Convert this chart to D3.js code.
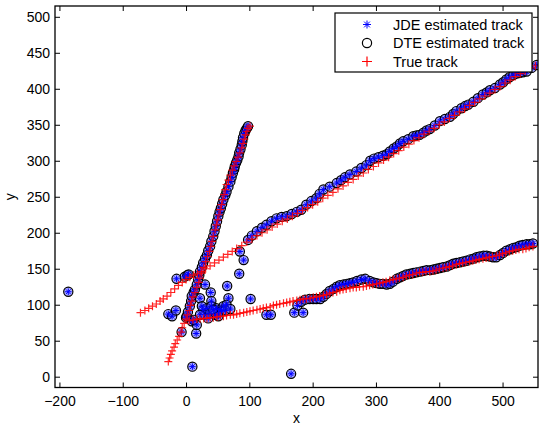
<!DOCTYPE html>
<html>
<head>
<meta charset="utf-8">
<script src="https://cdn.jsdelivr.net/npm/d3@7"></script>
<style>
  body { margin: 0; background: #fff; }
  svg { font-family: "Liberation Sans", Arial, sans-serif; }
</style>
</head>
<body>
<script>
// tick values
const xTicks = [-200, -100, 0, 100, 200, 300, 400, 500];
const yTicks = [0, 50, 100, 150, 200, 250, 300, 350, 400, 450, 500];

// legend labels
const seriesNames = ["JDE estimated track", "DTE estimated track", "True track"];

// true tracks (red +)
const trueA = [[-28,21],[-26,26],[-24,31],[-22,36],[-19,41],[-17,46],[-14,51],[-11,56],[-8,62],[-6,68],[-3,74],[0,80],[2,86],[5,92],[7,99],[9,105],[11,111],[14,117],[17,124],[20,131],[22,137],[25,144],[28,152],[31,160],[34,167],[37,174],[39,181],[41,188],[43,195],[46,204],[48,211],[50,218],[52,225],[54,232],[56,239],[58,246],[60,253],[62,260],[64,267],[67,273],[70,280],[73,287],[76,293],[79,299],[82,305],[85,311],[88,318],[90,324],[92,330],[94,336],[96,341],[98,345],[101,348]];
const trueB = [[-72,89],[-65,92],[-59,95],[-53,98],[-47,101],[-41,105],[-36,108],[-30,112],[-24,117],[-18,122],[-12,127],[-6,131],[0,135],[6,138],[12,141],[18,143],[24,146],[31,150],[38,154],[45,158],[52,162],[59,166],[66,170],[73,174],[80,178],[88,182],[96,187],[104,191],[112,196],[120,200],[128,204],[136,208],[144,212],[152,216],[160,219],[168,223],[176,227],[184,231],[192,235],[200,239],[208,243],[216,248],[224,252],[232,256],[240,261],[248,265],[256,270],[264,274],[272,279],[280,283],[288,288],[296,292],[304,297],[312,301],[320,305],[328,310],[336,314],[344,319],[352,323],[360,328],[368,332],[376,337],[384,341],[392,345],[400,350],[408,354],[416,359],[424,363],[432,368],[440,372],[448,377],[456,381],[464,386],[472,390],[480,394],[488,399],[496,403],[504,408],[512,412],[520,417],[528,421],[536,425],[544,429],[552,432]];
const trueC = [[5,78],[11,79],[17,80],[22,80],[28,81],[33,81],[38,82],[43,82],[49,83],[54,84],[59,84],[64,85],[70,86],[75,86],[80,87],[85,88],[91,89],[96,90],[101,91],[106,92],[112,93],[117,94],[122,95],[127,96],[133,97],[138,99],[143,100],[148,101],[154,102],[159,103],[164,104],[169,105],[175,106],[180,107],[185,108],[190,108],[196,109],[201,110],[206,111],[211,112],[217,113],[222,114],[227,116],[232,117],[238,118],[243,120],[248,121],[253,122],[259,123],[264,124],[269,124],[274,125],[280,125],[285,126],[290,127],[295,128],[301,129],[306,130],[311,131],[316,132],[322,134],[327,135],[332,136],[337,137],[343,138],[348,140],[353,141],[358,142],[364,144],[369,145],[374,145],[379,146],[385,146],[390,147],[395,148],[400,150],[406,151],[411,152],[416,153],[421,154],[427,156],[432,157],[437,158],[442,159],[448,160],[453,161],[458,162],[463,163],[469,164],[474,165],[479,166],[484,167],[490,168],[495,169],[500,171],[505,172],[511,174],[516,175],[521,176],[526,177],[532,177],[537,178],[542,180],[548,181]];

// estimated tracks (JDE and DTE give the same points)
const estA = [[1,84],[3,90],[6,98],[8,105],[9,112],[12,117],[14,121],[17,128],[19,135],[21,141],[22,146],[25,152],[27,158],[30,164],[33,169],[35,175],[38,181],[40,188],[43,195],[45,202],[47,209],[49,216],[51,223],[53,229],[55,234],[57,240],[59,246],[62,252],[64,257],[67,264],[70,271],[72,277],[74,283],[76,288],[77,292],[79,297],[81,301],[83,306],[84,311],[86,316],[88,322],[89,327],[90,332],[92,338],[94,342],[96,345],[98,348]];
const estB = [[98,190],[104,196],[112,202],[120,207],[127,211],[135,216],[143,220],[151,222],[159,223],[167,226],[175,229],[182,232],[190,239],[198,244],[206,248],[211,254],[217,260],[227,264],[238,269],[245,273],[251,277],[259,281],[269,285],[277,290],[285,294],[291,300],[297,303],[304,305],[311,307],[317,309],[322,313],[328,317],[333,320],[338,324],[343,327],[351,330],[359,334],[364,335],[369,336],[375,339],[380,342],[385,344],[393,349],[401,355],[409,358],[417,361],[422,365],[427,369],[435,373],[441,376],[446,378],[454,382],[461,387],[469,392],[475,395],[480,398],[488,401],[496,406],[501,409],[506,413],[511,416],[517,419],[522,421],[527,422],[532,423],[538,424],[546,429],[554,433]];
const estC = [[176,99],[182,104],[188,107],[195,108],[201,108],[206,108],[212,108],[217,111],[222,115],[227,119],[233,122],[238,125],[243,127],[249,128],[254,129],[259,130],[264,131],[270,133],[277,135],[283,136],[290,133],[296,131],[301,130],[306,129],[311,129],[317,128],[322,129],[327,132],[333,136],[338,138],[343,140],[348,142],[354,143],[359,144],[364,145],[370,146],[375,147],[380,148],[386,148],[391,149],[396,150],[401,151],[406,152],[412,153],[417,155],[422,157],[427,158],[433,159],[438,160],[443,161],[449,163],[454,164],[459,166],[464,167],[470,168],[475,168],[480,167],[485,166],[490,166],[496,169],[501,172],[506,175],[512,177],[517,179],[522,180],[527,182],[532,183],[538,184],[543,184],[548,185]];
// estimates away from the tracks (clutter)
const estClutter = [[-186,118],[-28,87],[-22,84],[-16,92],[-15,136],[-2,139],[2,141],[4,142],[-7,62],[16,60],[10,14],[30,128],[22,109],[39,117],[40,105],[65,126],[67,109],[84,143],[91,162],[85,174],[102,108],[127,86],[134,86],[166,4],[171,89],[185,89],[0,82],[9,77],[17,72],[27,93],[33,95],[40,98],[48,95],[54,93],[59,98],[64,100],[30,86],[38,88],[46,86],[51,88],[56,91],[35,81],[22,86],[25,98],[12,79],[43,93],[62,92],[70,94],[51,84]];

const estAll = estClutter.concat(estA, estB, estC);
const trueAll = trueA.concat(trueB, trueC);

const width = 539, height = 431;
const margin = {left: 55, right: 1, top: 6, bottom: 43.5};
const font = "'Liberation Sans', Arial, sans-serif";

const svg = d3.select("body").append("svg")
    .attr("width", width)
    .attr("height", height);

const xScale = d3.scaleLinear().domain([-207, 556]).range([margin.left, width - margin.right]);
const yScale = d3.scaleLinear().domain([-15, 515]).range([height - margin.bottom, margin.top]);

svg.append("clipPath").attr("id", "clip")
    .append("rect")
    .attr("x", margin.left).attr("y", margin.top)
    .attr("width", width - margin.left - margin.right)
    .attr("height", height - margin.top - margin.bottom);

//marker shapes
const star = (g, s) => {
    g.append("path")
        .attr("d", `M${-s},0H${s}M0,${-s}V${s}M${-s*0.72},${-s*0.72}L${s*0.72},${s*0.72}M${-s*0.72},${s*0.72}L${s*0.72},${-s*0.72}`)
        .attr("stroke", "#0000ff").attr("stroke-width", 1).attr("fill", "none");
};
const ring = (g, r) => {
    g.append("circle").attr("r", r)
        .attr("fill", "rgba(90,90,255,0.5)")
        .attr("stroke", "#000").attr("stroke-width", 1.2);
};
const plus = (g, s, w) => {
    g.append("path")
        .attr("d", `M${-s},0H${s}M0,${-s}V${s}`)
        .attr("stroke", "#ff0000").attr("stroke-width", w).attr("fill", "none");
};

let plot = svg.append("g").attr("clip-path", "url(#clip)");

// DTE circles
plot.append("g").selectAll("g").data(estAll).enter().append("g")
    .attr("transform", d => `translate(${xScale(d[0])},${yScale(d[1])})`)
    .each(function () { ring(d3.select(this), 4.6); });

// JDE stars
plot.append("g").selectAll("g").data(estAll).enter().append("g")
    .attr("transform", d => `translate(${xScale(d[0])},${yScale(d[1])})`)
    .each(function () { star(d3.select(this), 3.3); });

// true track
plot.append("g").selectAll("g").data(trueAll).enter().append("g")
    .attr("transform", d => `translate(${xScale(d[0])},${yScale(d[1])})`)
    .attr("opacity", 0.85)
    .each(function () { plus(d3.select(this), 4, 1.2); });

//axes
const x0 = margin.left, x1 = width - margin.right;
const y0 = height - margin.bottom, y1 = margin.top;

const xAxis = d3.axisBottom(xScale).tickValues(xTicks).tickSizeInner(-5).tickSizeOuter(0).tickPadding(9);
const yAxis = d3.axisLeft(yScale).tickValues(yTicks).tickSizeInner(-5).tickSizeOuter(0).tickPadding(5);
const xTop = d3.axisTop(xScale).tickValues(xTicks).tickSizeInner(-5).tickSizeOuter(0).tickFormat("");
const yRight = d3.axisRight(yScale).tickValues(yTicks).tickSizeInner(-5).tickSizeOuter(0).tickFormat("");

svg.append("g").attr("transform", `translate(0,${y0})`).call(xAxis);
svg.append("g").attr("transform", `translate(${x0},0)`).call(yAxis);
svg.append("g").attr("transform", `translate(0,${y1})`).call(xTop);
svg.append("g").attr("transform", `translate(${x1},0)`).call(yRight);

svg.selectAll(".domain").remove();
svg.selectAll(".tick line").attr("stroke", "#000");
svg.selectAll(".tick text").attr("font-size", 14).attr("fill", "#000")
    .attr("font-family", font);

svg.append("rect")
    .attr("x", x0).attr("y", y1)
    .attr("width", x1 - x0).attr("height", y0 - y1)
    .attr("fill", "none").attr("stroke", "#000").attr("stroke-width", 1.3);

svg.append("text").attr("x", (x0 + x1) / 2).attr("y", 423)
    .attr("text-anchor", "middle").attr("font-size", 14).text("x");
svg.append("text").attr("transform", `translate(15,${(y0 + y1) / 2}) rotate(-90)`)
    .attr("text-anchor", "middle").attr("font-size", 14).text("y");

//legend
const legend = svg.append("g");
legend.append("rect").attr("x", 335).attr("y", 13).attr("width", 197).attr("height", 59)
    .attr("fill", "#fff").attr("stroke", "#000").attr("stroke-width", 1.2);
const rowY = [24.5, 43, 61.5];
seriesNames.forEach((name, i) => {
    const g = legend.append("g").attr("transform", `translate(367,${rowY[i]})`);
    if (i === 0) star(g, 4);
    if (i === 1) g.append("circle").attr("r", 4.6).attr("fill", "none").attr("stroke", "#000").attr("stroke-width", 1.2);
    if (i === 2) plus(g, 5, 1.2);
    legend.append("text").attr("x", 393).attr("y", rowY[i] + 5)
        .attr("font-size", 14.5).text(name);
});
</script>
</body>
</html>
